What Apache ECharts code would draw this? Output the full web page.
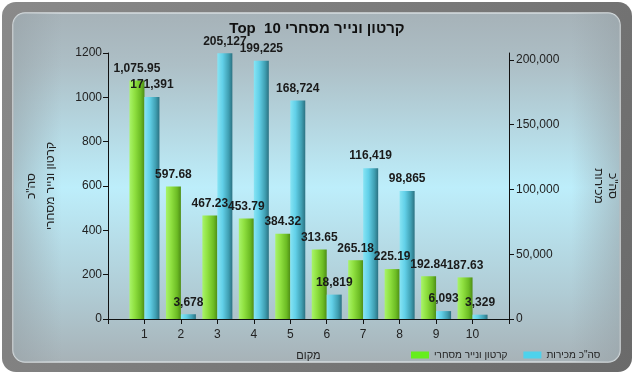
<!DOCTYPE html>
<html><head><meta charset="utf-8">
<script src="https://cdn.jsdelivr.net/npm/echarts@6/dist/echarts.min.js"></script>
<style>html,body{margin:0;padding:0;background:#fff}#c{width:634px;height:374px}</style>
</head><body><div id="c"></div>
<script>
// ---- data ----
const categories = [1, 2, 3, 4, 5, 6, 7, 8, 9, 10];
const cartonValues = [1075.95, 597.68, 467.23, 453.79, 384.32, 313.65, 265.18, 225.19, 192.84, 187.63];
const salesValues = [171391, 3678, 205127, 199225, 168724, 18819, 116419, 98865, 6093, 3329];
const leftTicks = [0, 200, 400, 600, 800, 1000, 1200];
const rightTicks = [0, 50000, 100000, 150000, 200000];
const titleText = 'Top  10 קרטון ונייר מסחרי';
const cartonName = 'קרטון ונייר מסחרי';
const salesName = 'סה"כ מכירות';
const leftAxisName = 'סה"כ\nקרטון ונייר מסחרי';
const rightAxisName = 'סה"כ\nמכירות';
const xAxisName = 'מקום';

const chart = echarts.init(document.getElementById('c'), null, {renderer: 'canvas'});
const font = 'Arial, "Liberation Sans", sans-serif';
const greenGrad = new echarts.graphic.LinearGradient(0, 0, 1, 0, [
  {offset: 0, color: '#a8f46a'}, {offset: 0.35, color: '#8fe040'}, {offset: 0.75, color: '#6cbc24'}, {offset: 1, color: '#4e8e16'}]);
const blueGrad = new echarts.graphic.LinearGradient(0, 0, 1, 0, [
  {offset: 0, color: '#86e4f4'}, {offset: 0.35, color: '#62d0e8'}, {offset: 0.75, color: '#3f9fb2'}, {offset: 1, color: '#2c7282'}]);

const option = {
  animation: false,
  graphic: [
    {type: 'rect', z: -10, silent: true, shape: {x: 2, y: 2, width: 630, height: 370, r: 14},
      style: {fill: new echarts.graphic.LinearGradient(0, 0, 1, 1, [{offset: 0, color: '#8a8a8a'}, {offset: 1, color: '#6a6a6a'}])}},
    {type: 'rect', z: -9, silent: true, shape: {x: 13, y: 13, width: 607, height: 349, r: 12},
      style: {stroke: '#d6dde0', lineWidth: 1.5, fill: new echarts.graphic.LinearGradient(0, 0, 0, 1, [
        {offset: 0, color: '#a6b2b8'}, {offset: 0.15, color: '#adbfc6'}, {offset: 0.5, color: '#bdeefb'},
        {offset: 0.8, color: '#b0ccd5'}, {offset: 1, color: '#a7b2b7'}])}},
    {type: 'rect', z: -8, silent: true, shape: {x: 13, y: 13, width: 607, height: 349, r: 12},
      style: {fill: new echarts.graphic.LinearGradient(0, 0, 1, 0, [
        {offset: 0, color: 'rgba(150,160,165,0.55)'}, {offset: 0.08, color: 'rgba(150,160,165,0)'},
        {offset: 0.92, color: 'rgba(150,160,165,0)'}, {offset: 1, color: 'rgba(150,160,165,0.55)'}])}}
  ],
  title: {text: titleText, left: 'center', top: 16,
    textStyle: {fontFamily: font, fontSize: 15, fontWeight: 'bold', color: '#111'}},
  legend: {left: 406, top: 345, itemWidth: 18, itemHeight: 7, itemGap: 16, icon: 'rect',
    textStyle: {fontFamily: font, fontSize: 10, color: '#222'},
    data: [{name: cartonName, itemStyle: {color: '#66ee1e'}}, {name: salesName, itemStyle: {color: '#4ed2ec'}}]},
  grid: {left: 108, right: 125, top: 53, bottom: 55, containLabel: false, outerBoundsMode: 'none'},
  xAxis: {type: 'value', min: 0, max: 11, interval: 1,
    name: xAxisName, nameLocation: 'middle', nameGap: 31,
    nameTextStyle: {fontFamily: font, fontSize: 11, color: '#222'},
    axisLine: {show: true, lineStyle: {color: '#111'}},
    axisTick: {show: true, length: 5, lineStyle: {color: '#111'}},
    splitLine: {show: false},
    axisLabel: {fontFamily: font, fontSize: 12, color: '#222', margin: 10,
      formatter: v => categories.indexOf(v) >= 0 ? String(v) : ''}},
  yAxis: [
    {type: 'value', min: 0, max: 1200, interval: 200, position: 'left',
      name: leftAxisName, nameLocation: 'middle', nameRotate: 90, nameGap: 48,
      nameTextStyle: {fontFamily: font, fontSize: 12, color: '#222', lineHeight: 19},
      axisLine: {show: true, lineStyle: {color: '#111'}},
      axisTick: {show: true, length: 5, lineStyle: {color: '#111'}},
      splitLine: {show: false},
      axisLabel: {fontFamily: font, fontSize: 12, color: '#222', margin: 6,
        formatter: v => leftTicks.indexOf(v) >= 0 ? String(v) : ''}},
    {type: 'value', min: 0, max: 205300, interval: 50000, position: 'right',
      name: rightAxisName, nameLocation: 'middle', nameRotate: -90, nameGap: 82,
      nameTextStyle: {fontFamily: font, fontSize: 12, color: '#222', lineHeight: 14, padding: [8, 0, 0, 0]},
      axisLine: {show: true, lineStyle: {color: '#111'}},
      axisTick: {show: true, length: 5, customValues: rightTicks, lineStyle: {color: '#111'}},
      splitLine: {show: false},
      axisLabel: {fontFamily: font, fontSize: 12, color: '#222', margin: 7, customValues: rightTicks,
        formatter: v => v.toLocaleString('en-US')}}
  ],
  series: [
    {name: cartonName, type: 'bar', yAxisIndex: 0, barWidth: 15, barGap: '0%',
      itemStyle: {color: greenGrad},
      label: {show: true, position: 'top', distance: 6, fontFamily: font, fontSize: 12, fontWeight: 'bold', color: '#1a1a1a',
        formatter: p => p.value[1].toLocaleString('en-US', {minimumFractionDigits: 2, maximumFractionDigits: 2})},
      data: categories.map((c, i) => [c, cartonValues[i]])},
    {name: salesName, type: 'bar', yAxisIndex: 1, barWidth: 15, barGap: '0%',
      itemStyle: {color: blueGrad},
      label: {show: true, position: 'top', distance: 6, fontFamily: font, fontSize: 12, fontWeight: 'bold', color: '#1a1a1a',
        formatter: p => p.value[1].toLocaleString('en-US')},
      data: categories.map((c, i) => [c, salesValues[i]])}
  ]
};
chart.setOption(option);
</script></body></html>
